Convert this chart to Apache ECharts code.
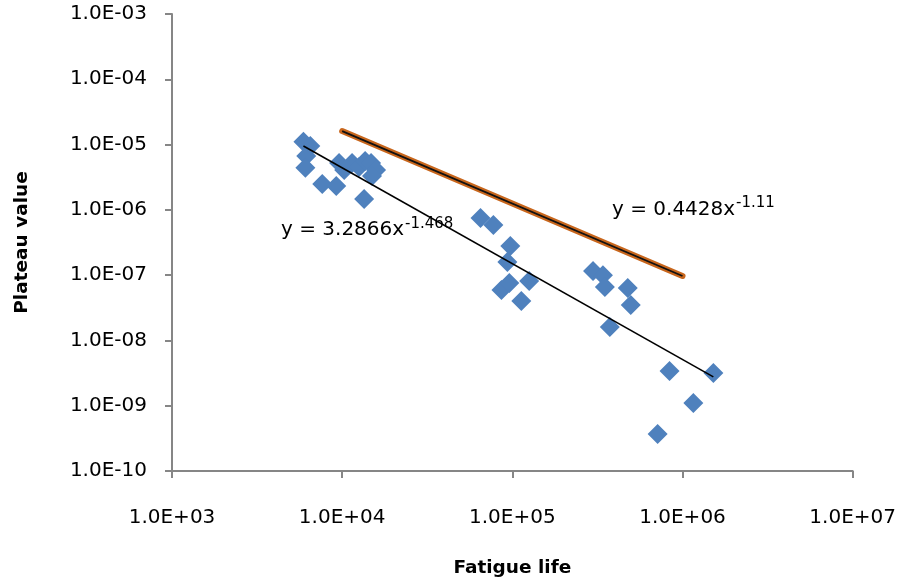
<!DOCTYPE html>
<html>
<head>
<meta charset="utf-8">
<script src="https://cdn.jsdelivr.net/npm/echarts@6/dist/echarts.min.js"></script>
<style>
html,body{margin:0;padding:0;background:#fff;}
#chart{width:899px;height:585px;}
</style>
</head>
<body>
<div id="chart"></div>
<script>
// Data
const fatigueLife = [5920, 6500, 6150, 6080, 7640, 9230, 9590, 10280, 11430, 12570, 13640, 14790, 15820, 14970, 13460,
  65000, 77400, 97300, 93500, 86300, 96000, 125600, 112900,
  298000, 340700, 349700, 476600, 496600, 374000,
  839000, 1518000, 1158000, 714000];
const plateauValue = [1.10e-5, 9.5e-6, 6.7e-6, 4.4e-6, 2.49e-6, 2.32e-6, 5.22e-6, 4.08e-6, 5.22e-6, 4.54e-6, 5.6e-6, 5.2e-6, 4.08e-6, 3.3e-6, 1.47e-6,
  7.5e-7, 5.86e-7, 2.8e-7, 1.59e-7, 5.93e-8, 7.59e-8, 8.14e-8, 4.02e-8,
  1.16e-7, 1.0e-7, 6.59e-8, 6.36e-8, 3.49e-8, 1.61e-8,
  3.4e-9, 3.17e-9, 1.10e-9, 3.69e-10];
// Trend lines (endpoints)
const blackTrendX = [5920, 1518000];
const blackTrendY = [9.5e-6, 2.77e-9];
const orangeTrendX = [10000, 1000000];
const orangeTrendY = [1.61e-5, 9.7e-8];
// Tick labels
const xTickLabels = ['1.0E+03', '1.0E+04', '1.0E+05', '1.0E+06', '1.0E+07'];
const yTickLabels = ['1.0E-10', '1.0E-09', '1.0E-08', '1.0E-07', '1.0E-06', '1.0E-05', '1.0E-04', '1.0E-03'];
const blackEq = ['y = 3.2866x', '-1.468'];
const orangeEq = ['y = 0.4428x', '-1.11'];

const FONT = 'DejaVu Sans';
const chart = echarts.init(document.getElementById('chart'));
const scatterData = fatigueLife.map((x, i) => [x, plateauValue[i]]);
const blackData = blackTrendX.map((x, i) => [x, blackTrendY[i]]);
const orangeData = orangeTrendX.map((x, i) => [x, orangeTrendY[i]]);

const axisColor = '#868686';
chart.setOption({
  animation: false,
  backgroundColor: '#fff',
  grid: {left: 172, top: 14, right: 43, bottom: 114, containLabel: false},
  xAxis: {
    type: 'log', logBase: 10, min: 1e3, max: 1e7,
    name: 'Fatigue life', nameLocation: 'middle', nameGap: 88,
    nameTextStyle: {fontFamily: FONT, fontSize: 18.5, fontWeight: 'bold', color: '#000'},
    axisLine: {show: true, lineStyle: {color: axisColor, width: 2}},
    axisTick: {show: true, length: 7, lineStyle: {color: axisColor, width: 2}},
    minorTick: {show: false},
    splitLine: {show: false},
    axisLabel: {
      margin: 37, fontFamily: FONT, fontSize: 20, color: '#000',
      formatter: v => xTickLabels[Math.round(Math.log10(v)) - 3]
    }
  },
  yAxis: {
    type: 'log', logBase: 10, min: 1e-10, max: 1e-3,
    name: 'Plateau value', nameLocation: 'middle', nameGap: 140, nameRotate: 90,
    nameTextStyle: {fontFamily: FONT, fontSize: 18.5, fontWeight: 'bold', color: '#000'},
    axisLine: {show: true, lineStyle: {color: axisColor, width: 2}},
    axisTick: {show: true, length: 7, lineStyle: {color: axisColor, width: 2}},
    splitLine: {show: false},
    axisLabel: {
      margin: 25, fontFamily: FONT, fontSize: 20, color: '#000',
      formatter: v => yTickLabels[Math.round(Math.log10(v)) + 10]
    }
  },
  series: [
    {
      type: 'scatter', data: scatterData, symbol: 'diamond', symbolSize: 20,
      itemStyle: {color: '#4F81BD', opacity: 1}, z: 2
    },
    {
      type: 'line', data: blackData, showSymbol: false, symbol: 'none',
      lineStyle: {color: '#000', width: 1.6}, z: 3
    },
    {
      type: 'line', data: orangeData, showSymbol: false, symbol: 'none',
      lineStyle: {color: '#C8661C', width: 6, cap: 'round'}, z: 3
    },
    {
      type: 'line', data: orangeData, showSymbol: false, symbol: 'none',
      lineStyle: {color: '#111', width: 1.8}, z: 4
    }
  ],
  graphic: [
    {type: 'text', z: 10, style: {x: 281, y: 230, text: blackEq[0], font: '20px "DejaVu Sans"', fill: '#000', textVerticalAlign: 'middle'}},
    {type: 'text', z: 10, style: {x: 405, y: 224, text: blackEq[1], font: '15px "DejaVu Sans"', fill: '#000', textVerticalAlign: 'middle'}},
    {type: 'text', z: 10, style: {x: 612, y: 210, text: orangeEq[0], font: '20px "DejaVu Sans"', fill: '#000', textVerticalAlign: 'middle'}},
    {type: 'text', z: 10, style: {x: 736, y: 203, text: orangeEq[1], font: '15px "DejaVu Sans"', fill: '#000', textVerticalAlign: 'middle'}}
  ]
});
</script>
</body>
</html>
